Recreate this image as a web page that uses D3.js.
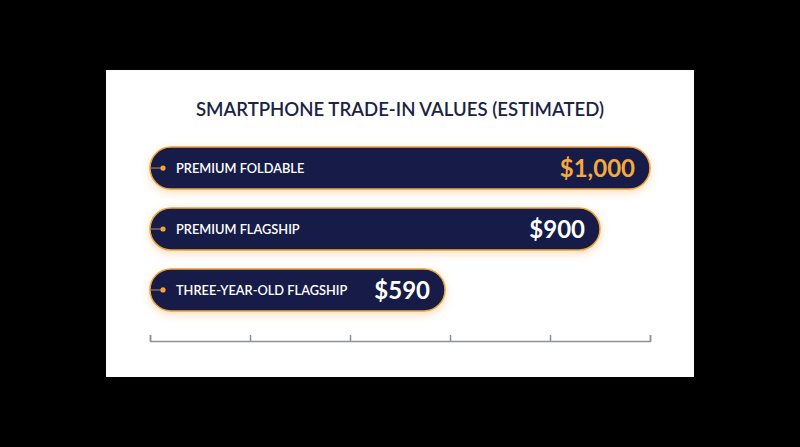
<!DOCTYPE html>
<html>
<head>
<meta charset="utf-8">
<script src="https://cdn.jsdelivr.net/npm/d3@7"></script>
<style>
  html, body { margin: 0; padding: 0; background: #000; }
  svg { display: block; }
</style>
</head>
<body>
<script>
// data
const categories = ["PREMIUM FOLDABLE", "PREMIUM FLAGSHIP", "THREE-YEAR-OLD FLAGSHIP"];
const values = [1000, 900, 590];
const valueLabels = ["$1,000", "$900", "$590"];
const tickValues = [0, 200, 400, 600, 800, 1000];

const W = 800, H = 447;

const svg = d3.select("body").append("svg")
  .attr("width", W)
  .attr("height", H);

const defs = svg.append("defs");
const glow = defs.append("filter")
  .attr("id", "glow")
  .attr("x", "-10%").attr("y", "-50%")
  .attr("width", "120%").attr("height", "220%");
glow.append("feDropShadow")
  .attr("dx", 0).attr("dy", 3)
  .attr("stdDeviation", 4)
  .attr("flood-color", "#f5a23a")
  .attr("flood-opacity", 0.35);

// white card
svg.append("rect")
  .attr("x", 106).attr("y", 70)
  .attr("width", 588).attr("height", 307)
  .attr("fill", "#ffffff");

svg.append("text")
  .attr("x", 400).attr("y", 116)
  .attr("text-anchor", "middle")
  .attr("font-family", "Lato, sans-serif")
  .attr("font-size", 18.6)
  .attr("font-weight", 600)
  .attr("fill", "#1b2445")
  .text("SMARTPHONE TRADE-IN VALUES (ESTIMATED)");

// scales
const x = d3.scaleLinear().domain([0, 1000]).range([150, 650]);
const y = d3.scaleBand().domain(categories).range([147, 311]).paddingInner(0.31);

// axis
const axis = svg.append("g")
  .attr("transform", "translate(0,341)")
  .call(d3.axisTop(x).tickValues(tickValues).tickSize(6).tickFormat(""));
axis.select(".domain").attr("stroke", "#8b909c").attr("stroke-width", 1.5);
axis.selectAll(".tick line").attr("stroke", "#8b909c").attr("stroke-width", 1.5);

// bars
const rows = svg.selectAll(".row")
  .data(categories)
  .join("g")
  .attr("class", "row");

rows.append("rect")
  .attr("x", x(0))
  .attr("y", d => y(d))
  .attr("width", (d, i) => x(values[i]) - x(0))
  .attr("height", y.bandwidth())
  .attr("rx", y.bandwidth() / 2)
  .attr("fill", "#121e47")
  .attr("stroke", "#f0a23c")
  .attr("stroke-width", 1.5)
  .attr("filter", "url(#glow)");

// little connector line and dot at the left end
rows.append("line")
  .attr("x1", x(0))
  .attr("x2", x(0) + 13)
  .attr("y1", d => y(d) + y.bandwidth() / 2)
  .attr("y2", d => y(d) + y.bandwidth() / 2)
  .attr("stroke", "#a07a55")
  .attr("stroke-width", 1.2);

rows.append("circle")
  .attr("cx", x(0) + 13)
  .attr("cy", d => y(d) + y.bandwidth() / 2)
  .attr("r", 2.6)
  .attr("fill", "#f5a33a");

rows.append("text")
  .attr("x", x(0) + 26)
  .attr("y", d => y(d) + y.bandwidth() / 2)
  .attr("dy", "0.36em")
  .attr("font-family", "Lato, sans-serif")
  .attr("font-size", 12.8)
  .attr("font-weight", 600)
  .attr("fill", "#ffffff")
  .text(d => d);

rows.append("text")
  .attr("x", (d, i) => x(values[i]) - 15)
  .attr("y", d => y(d) + y.bandwidth() / 2)
  .attr("dy", "0.36em")
  .attr("text-anchor", "end")
  .attr("font-family", "Lato, sans-serif")
  .attr("font-size", 24)
  .attr("font-weight", 700)
  .attr("fill", (d, i) => i === 0 ? "#f5a93f" : "#ffffff")
  .text((d, i) => valueLabels[i]);
</script>
</body>
</html>
